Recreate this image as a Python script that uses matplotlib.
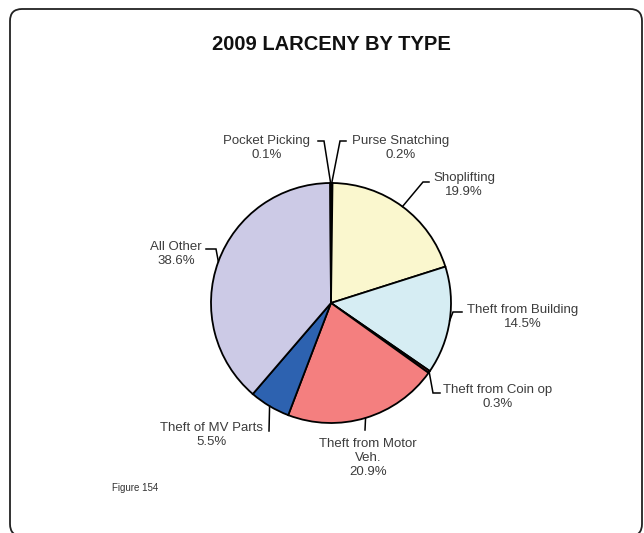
import numpy as np
import matplotlib
matplotlib.use("Agg")
import matplotlib.pyplot as plt
from matplotlib.patches import FancyBboxPatch

plt.rcParams['font.family'] = ['Liberation Sans', 'DejaVu Sans']

# ---- data ----
categories = ["Purse Snatching", "Shoplifting", "Theft from Building", "Theft from Coin op",
              "Theft from Motor\nVeh.", "Theft of MV Parts", "All Other", "Pocket Picking"]
values = [0.2, 19.9, 14.5, 0.3, 20.9, 5.5, 38.6, 0.1]
colors = ["#2a2a2a", "#FAF7CE", "#D6EDF3", "#C83030", "#F47F7F", "#2D62B0", "#CCCAE6", "#2a2a2a"]
title = "2009 LARCENY BY TYPE"
footnote = "Figure 154"

# ---- layout (image pixel coords, y downward) ----
W, H = 644, 533
center = (331, 303)
radius = 120
# label block centre, elbow point, line end point
label_pos = {
    "Purse Snatching":      ((401, 148), (340, 141), (346, 141)),
    "Shoplifting":          ((464, 185), (423, 182), (429, 182)),
    "Theft from Building":  ((523, 317), (453, 312), (462, 312)),
    "Theft from Coin op":   ((498, 397), (433, 393), (440, 393)),
    "Theft from Motor\nVeh.": ((368, 458), (365, 430), (365, 430)),
    "Theft of MV Parts":    ((212, 435), (269, 431), (269, 431)),
    "All Other":            ((176, 254), (216, 249), (206, 249)),
    "Pocket Picking":       ((267, 148), (324, 141), (318, 141)),
}

fig = plt.figure(figsize=(W / 100, H / 100), dpi=100)
ax = fig.add_axes([0, 0, 1, 1])

def Y(y):
    return H - y

wedges, _ = ax.pie(values, colors=colors, startangle=90, counterclock=False,
                   center=(center[0], Y(center[1])), radius=radius,
                   wedgeprops=dict(edgecolor="black", linewidth=1.3))
ax.set_xlim(0, W)
ax.set_ylim(0, H)
ax.set_aspect('auto')
ax.axis('off')

total = sum(values)
cum = 0.0
for cat, v in zip(categories, values):
    mid = cum + v / 2
    cum += v
    ang = np.deg2rad(90 - 360 * mid / total)
    ex = center[0] + radius * np.cos(ang)
    ey = center[1] - radius * np.sin(ang)
    (tx, ty), (bx, by), (lx, ly) = label_pos[cat]
    ax.plot([ex, bx, lx], [Y(ey), Y(by), Y(ly)], color="black", lw=1.1,
            solid_joinstyle='miter', zorder=5)
    ax.text(tx, Y(ty), f"{cat}\n{v:.1f}%", ha="center", va="center",
            multialignment="center", fontsize=9.5, color="#3c3c3c", linespacing=1.25)

ax.text(331, Y(45), title, ha="center", va="center", fontsize=14.5, fontweight="bold",
        color="#111111")
ax.text(135, Y(488), footnote, ha="center", va="center", fontsize=7, color="#333333")

frame = FancyBboxPatch((10, Y(536)), 632, 527, boxstyle="round,pad=0,rounding_size=12",
                       transform=ax.transData, fill=False, edgecolor="#222222", lw=1.3,
                       clip_on=False)
ax.add_patch(frame)

fig.savefig("out.png", dpi=100, facecolor="white")
